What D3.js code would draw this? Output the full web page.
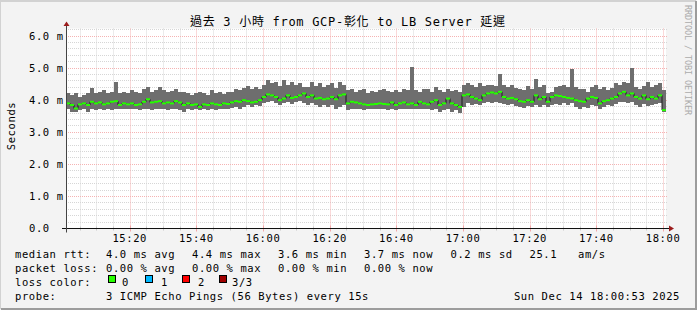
<!DOCTYPE html>
<html>
<head>
<meta charset="utf-8">
<script src="https://cdn.jsdelivr.net/npm/d3@7"></script>
<style>
  body { margin: 0; background: #f3f3f3; }
  svg { display: block; }
  text { font-family: "DejaVu Sans Mono", "Noto Sans CJK TC", monospace; fill: #000; }
  .legend, .tick-label, .axis-title { font-size: 10.5px; letter-spacing: 0.6px; }
</style>
</head>
<body>
<svg id="chart"></svg>
<script>
// time window of the graph (3 hours)
const startTime = new Date(2025, 11, 14, 15, 0, 53);
const endTime = new Date(2025, 11, 14, 18, 0, 53);
const stepSeconds = 72;

// smoke band, upper edge (ms)
const smokeHigh = [
  4.21,4.15,4.21,4.10,4.15,4.21,4.38,4.21,4.26,4.31,4.21,4.26,4.57,4.21,4.24,4.21,4.31,4.26,4.21,4.36,4.41,4.26,4.31,4.41,4.31,4.26,4.28,4.36,4.26,4.24,
  4.21,4.15,4.21,4.26,4.21,4.15,4.31,4.21,4.24,4.18,4.24,4.26,4.36,4.31,4.38,4.44,4.36,4.41,4.36,4.46,4.62,4.52,4.57,4.44,4.62,4.46,4.57,4.46,4.52,4.41,
  4.41,4.57,4.44,4.52,4.41,4.46,4.52,4.38,4.57,4.46,4.31,4.36,4.26,4.31,4.36,4.21,4.28,4.24,4.31,4.36,4.28,4.26,4.31,4.24,4.36,4.31,5.03,4.31,4.26,4.36,
  4.36,4.26,4.41,4.31,4.26,4.36,4.28,4.31,4.26,4.46,4.52,4.46,4.41,4.52,4.44,4.46,4.48,4.44,4.82,4.46,4.41,4.48,4.38,4.36,4.31,4.44,4.36,4.67,4.41,4.46,
  4.21,4.26,4.41,4.44,4.46,4.41,4.98,4.41,4.36,4.34,4.26,4.41,4.46,4.36,4.41,4.31,4.38,4.52,4.46,4.57,4.52,5.00,4.41,4.36,4.44,4.57,4.41,4.46,4.52,4.31
];

// smoke band, lower edge (ms)
const smokeLow = [
  3.74,3.64,3.64,3.69,3.74,3.64,3.74,3.69,3.74,3.69,3.74,3.69,3.74,3.72,3.74,3.71,3.74,3.72,3.69,3.74,3.74,3.69,3.74,3.72,3.74,3.69,3.74,3.72,3.69,3.64,
  3.74,3.69,3.74,3.69,3.74,3.69,3.74,3.69,3.74,3.72,3.74,3.76,3.79,3.74,3.79,3.85,3.79,3.85,3.82,3.90,3.95,3.97,3.90,3.85,3.90,3.95,3.87,3.93,3.97,3.90,
  3.85,3.90,3.85,3.79,3.85,3.79,3.85,3.74,3.79,3.85,3.69,3.74,3.72,3.74,3.69,3.72,3.74,3.74,3.72,3.74,3.69,3.72,3.69,3.74,3.72,3.74,3.72,3.74,3.71,3.74,
  3.74,3.69,3.74,3.64,3.69,3.74,3.64,3.69,3.59,3.79,3.90,3.85,3.87,3.85,3.90,3.95,3.90,3.93,3.90,3.87,3.85,3.87,3.82,3.79,3.76,3.82,3.79,3.85,3.79,3.85,
  3.79,3.85,3.87,3.85,3.90,3.85,3.90,3.79,3.74,3.79,3.76,3.85,3.82,3.74,3.79,3.85,3.82,3.87,3.95,3.93,3.90,3.95,3.85,3.79,3.87,3.82,3.85,3.87,3.90,3.64
];

// median rtt (ms), all with 0 packet loss
const medianRtt = [
  3.90,3.85,3.74,3.87,3.90,3.85,3.95,3.90,3.93,3.87,3.90,3.95,3.97,3.85,3.90,3.87,3.90,3.85,3.87,3.95,4.03,3.93,3.95,3.97,3.90,3.93,3.90,3.97,3.93,3.85,
  3.90,3.85,3.87,3.79,3.87,3.85,3.90,3.87,3.85,3.90,3.88,3.93,3.97,3.95,4.00,3.97,3.93,3.95,4.00,4.10,4.18,4.15,4.10,4.00,4.05,4.15,4.07,4.10,4.15,4.21,
  4.10,4.15,4.05,4.07,4.03,4.05,4.10,4.03,4.15,4.18,3.90,3.95,3.93,3.90,3.87,3.85,3.87,3.88,3.90,3.88,3.87,3.93,3.85,3.90,3.93,3.87,3.90,3.85,3.95,3.90,
  3.87,3.95,4.00,3.85,3.90,4.05,3.90,3.85,3.79,4.15,4.18,4.10,4.05,4.00,4.15,4.21,4.24,4.21,4.26,4.10,4.05,4.07,4.03,3.97,3.95,4.00,3.95,4.15,4.03,4.10,
  3.95,4.10,4.15,4.13,4.10,4.07,4.05,4.00,3.97,3.95,4.05,4.10,4.07,3.90,3.97,4.00,4.05,4.10,4.21,4.26,4.15,4.21,4.10,4.05,4.15,4.03,4.10,4.05,4.15,3.69
];

const yMax = 6.234;
const yTickValues = [0, 1, 2, 3, 4, 5, 6];
const yTickLabels = ['0.0', '1.0 m', '2.0 m', '3.0 m', '4.0 m', '5.0 m', '6.0 m'];

const chartTitle = '過去 3 小時 from GCP-彰化 to LB Server 延遲';
const medianStats = ['4.0 ms avg', '4.4 ms max', '3.6 ms min', '3.7 ms now', '0.2 ms sd'];
const lossStats = ['0.00 % avg', '0.00 % max', '0.00 % min', '0.00 % now'];
const lossLabels = ['0', '1', '2', '3/3'];
const probeText = '3 ICMP Echo Pings (56 Bytes) every 15s';
const stampText = 'Sun Dec 14 18:00:53 2025';

class SmokeChart {

  constructor(_config) {
    this.config = {
      parentElement: _config.parentElement,
      containerWidth: _config.containerWidth || 697,
      containerHeight: _config.containerHeight || 310,
      margin: _config.margin || {top: 28.5, right: 31, bottom: 81.5, left: 66}
    }
    this.initVis();
  }

  initVis() {
    let vis = this;
    const W = vis.config.containerWidth, H = vis.config.containerHeight;

    vis.width = W - vis.config.margin.left - vis.config.margin.right;
    vis.height = H - vis.config.margin.top - vis.config.margin.bottom;

    vis.xScale = d3.scaleTime()
        .domain([startTime, endTime])
        .range([0, vis.width]);

    vis.yScale = d3.scaleLinear()
        .domain([0, yMax])
        .range([vis.height, 0]);

    vis.svg = d3.select(vis.config.parentElement)
        .attr('width', W)
        .attr('height', H);

    // canvas and 3d-ish frame
    vis.svg.append('rect').attr('width', W).attr('height', H).attr('fill', '#f3f3f3');
    vis.svg.append('path').attr('d', `M0,${H - 1}V1H${W - 1}`)
        .attr('fill', 'none').attr('stroke', '#d2d2d2').attr('stroke-width', 2);
    vis.svg.append('path').attr('d', `M1,${H - 1}H${W - 1}V1`)
        .attr('fill', 'none').attr('stroke', '#9c9c9c').attr('stroke-width', 2);

    vis.chart = vis.svg.append('g')
        .attr('transform', `translate(${vis.config.margin.left},${vis.config.margin.top})`);

    vis.chart.append('rect')
        .attr('width', vis.width)
        .attr('height', vis.height)
        .attr('fill', '#fff');

    // grid: minor 5 min / 0.2 ms, major 20 min / 1 ms
    const minorTimes = d3.timeMinute.every(5).range(startTime, endTime);
    const majorTimes = d3.timeMinute.every(20).range(startTime, endTime);
    const isMajor = t => t.getMinutes() % 20 === 0;
    const minorVals = d3.range(1, 32).map(i => +(i * 0.2).toFixed(1)).filter(v => v % 1 !== 0);
    const majorVals = yTickValues.filter(v => v > 0);

    const gridMinor = '#d6d6d6', gridMajor = '#f5b3b3';

    const vx = t => Math.round(vis.xScale(t)) + 0.5;
    const hy = v => Math.round(vis.yScale(v));

    const grid = vis.chart.append('g').attr('class', 'grid');
    grid.selectAll('.vminor')
        .data(minorTimes.filter(t => !isMajor(t)))
      .join('line')
        .attr('x1', vx).attr('x2', vx)
        .attr('y1', 0).attr('y2', vis.height)
        .attr('stroke', gridMinor).attr('stroke-dasharray', '1,1');
    grid.selectAll('.hminor')
        .data(minorVals)
      .join('line')
        .attr('class', 'hminor')
        .attr('x1', 0).attr('x2', vis.width + 2)
        .attr('y1', hy).attr('y2', hy)
        .attr('stroke', gridMinor).attr('stroke-dasharray', '1,1');
    grid.selectAll('.vmajor')
        .data(majorTimes)
      .join('line')
        .attr('class', 'vmajor')
        .attr('x1', vx).attr('x2', vx)
        .attr('y1', 0).attr('y2', vis.height)
        .attr('stroke', gridMajor).attr('stroke-dasharray', '1,1');
    grid.selectAll('.hmajor')
        .data(majorVals)
      .join('line')
        .attr('class', 'hmajor')
        .attr('x1', 0).attr('x2', vis.width + 2)
        .attr('y1', hy).attr('y2', hy)
        .attr('stroke', gridMajor).attr('stroke-dasharray', '1,1');

    vis.vx = vx;
    vis.hy = hy;
    vis.minorTimes = minorTimes;
    vis.majorTimes = majorTimes;
    vis.isMajor = isMajor;
  }

  updateVis() {
    let vis = this;
    vis.times = d3.range(medianRtt.length + 1)
        .map(i => new Date(startTime.getTime() + i * stepSeconds * 1000));
    vis.renderVis();
  }

  renderVis() {
    let vis = this;
    const idx = d3.range(medianRtt.length);
    const x0 = i => vis.xScale(vis.times[i]);
    const x1 = i => vis.xScale(vis.times[i + 1]);

    // smoke
    vis.chart.selectAll('.smoke')
        .data(idx)
      .join('rect')
        .attr('class', 'smoke')
        .attr('x', x0)
        .attr('width', i => x1(i) - x0(i))
        .attr('y', i => vis.yScale(smokeHigh[i]))
        .attr('height', i => vis.yScale(smokeLow[i]) - vis.yScale(smokeHigh[i]))
        .attr('fill', '#6e6e6e')
        .attr('shape-rendering', 'crispEdges');

    // median step line
    const stepLine = d3.line()
        .x(i => vis.xScale(vis.times[i]))
        .y(i => vis.yScale(medianRtt[Math.min(i, medianRtt.length - 1)]))
        .curve(d3.curveStepAfter);
    vis.chart.append('path')
        .datum(d3.range(medianRtt.length + 1))
        .attr('d', stepLine)
        .attr('fill', 'none')
        .attr('stroke', '#1a1a1a')
        .attr('stroke-width', 1);

    // loss-coloured median marks
    vis.chart.selectAll('.med')
        .data(idx)
      .join('line')
        .attr('class', 'med')
        .attr('x1', x0).attr('x2', x1)
        .attr('y1', i => vis.yScale(medianRtt[i]))
        .attr('y2', i => vis.yScale(medianRtt[i]))
        .attr('stroke', '#26ff00')
        .attr('stroke-width', 2);

    // axis ticks (solid stubs at grid lines)
    const ticks = vis.chart.append('g');
    ticks.selectAll('.xt')
        .data(vis.minorTimes)
      .join('line')
        .attr('x1', vis.vx).attr('x2', vis.vx)
        .attr('y1', t => vis.height - (vis.isMajor(t) ? 3 : 2))
        .attr('y2', t => vis.height + (vis.isMajor(t) ? 3 : 2))
        .attr('stroke', t => vis.isMajor(t) ? '#f2a6a6' : '#c8c8c8');

    // axes with arrows
    vis.chart.append('line')
        .attr('x1', -4).attr('x2', vis.width + 4)
        .attr('y1', vis.height).attr('y2', vis.height)
        .attr('stroke', '#111');
    vis.chart.append('path')
        .attr('d', `M${vis.width + 3},${vis.height - 3}L${vis.width + 8},${vis.height}L${vis.width + 3},${vis.height + 3}Z`)
        .attr('fill', '#9b1c1c');
    vis.chart.append('line')
        .attr('x1', 0.5).attr('x2', 0.5)
        .attr('y1', vis.height + 4).attr('y2', -3)
        .attr('stroke', '#444');
    vis.chart.append('path')
        .attr('d', 'M-2.5,-2.5L0.5,-7L3.5,-2.5Z')
        .attr('fill', '#9b1c1c');

    // tick labels
    vis.chart.selectAll('.xlab')
        .data(vis.majorTimes)
      .join('text')
        .attr('class', 'tick-label')
        .attr('x', t => vis.xScale(t))
        .attr('y', vis.height + 13)
        .attr('text-anchor', 'middle')
        .text(d3.timeFormat('%H:%M'));

    vis.chart.selectAll('.ylab')
        .data(yTickValues)
      .join('text')
        .attr('class', 'tick-label')
        .attr('x', -37)
        .attr('y', v => vis.yScale(v) + 3.8)
        .text((v, i) => yTickLabels[i]);

    // titles
    vis.svg.append('text')
        .attr('x', 190)
        .attr('y', 26)
        .attr('font-size', '12px')
        .attr('textLength', 315)
        .attr('lengthAdjust', 'spacing')
        .text(chartTitle);

    vis.svg.append('text')
        .attr('class', 'axis-title')
        .attr('transform', 'translate(14.5,126) rotate(-90)')
        .attr('text-anchor', 'middle')
        .text('Seconds');

    vis.svg.append('text')
        .attr('transform', 'translate(685,5) rotate(90)')
        .attr('font-size', '8.5px')
        .attr('textLength', 110)
        .attr('lengthAdjust', 'spacing')
        .style('fill', '#ababab')
        .text('RRDTOOL / TOBI OETIKER');

    // legend
    const cols = [106, 192, 278, 364, 450.5];
    const leg = vis.svg.append('g').attr('class', 'legend');
    leg.append('text').attr('x', 15).attr('y', 258).text('median rtt:');
    leg.selectAll('.ms')
        .data(medianStats)
      .join('text')
        .attr('x', (d, i) => cols[i]).attr('y', 258)
        .text(d => d);
    leg.append('text').attr('x', 529.5).attr('y', 258).text('25.1');
    leg.append('text').attr('x', 578).attr('y', 258).text('am/s');

    leg.append('text').attr('x', 15).attr('y', 272).text('packet loss:');
    leg.selectAll('.ls')
        .data(lossStats)
      .join('text')
        .attr('x', (d, i) => cols[i]).attr('y', 272)
        .text(d => d);

    const lossColors = ['#26ff00', '#00b8ff', '#ff0000', '#a00000'];
    const boxX = [108.5, 145.5, 182.5, 219.5];
    const labX = [122, 161, 198, 232];
    leg.append('text').attr('x', 15).attr('y', 286).text('loss color:');
    leg.selectAll('.lbox')
        .data(lossLabels)
      .join('rect')
        .attr('x', (d, i) => boxX[i]).attr('y', 275.5)
        .attr('width', 7).attr('height', 7)
        .attr('fill', (d, i) => lossColors[i])
        .attr('stroke', '#000');
    leg.selectAll('.llab')
        .data(lossLabels)
      .join('text')
        .attr('x', (d, i) => labX[i]).attr('y', 286)
        .text(d => d);

    leg.append('text').attr('x', 15).attr('y', 300).text('probe:');
    leg.append('text').attr('x', 106).attr('y', 300).text(probeText);
    leg.append('text').attr('x', 680).attr('y', 300).attr('text-anchor', 'end').text(stampText);
  }
}

const chart = new SmokeChart({parentElement: '#chart'});
chart.updateVis();
</script>
</body>
</html>
